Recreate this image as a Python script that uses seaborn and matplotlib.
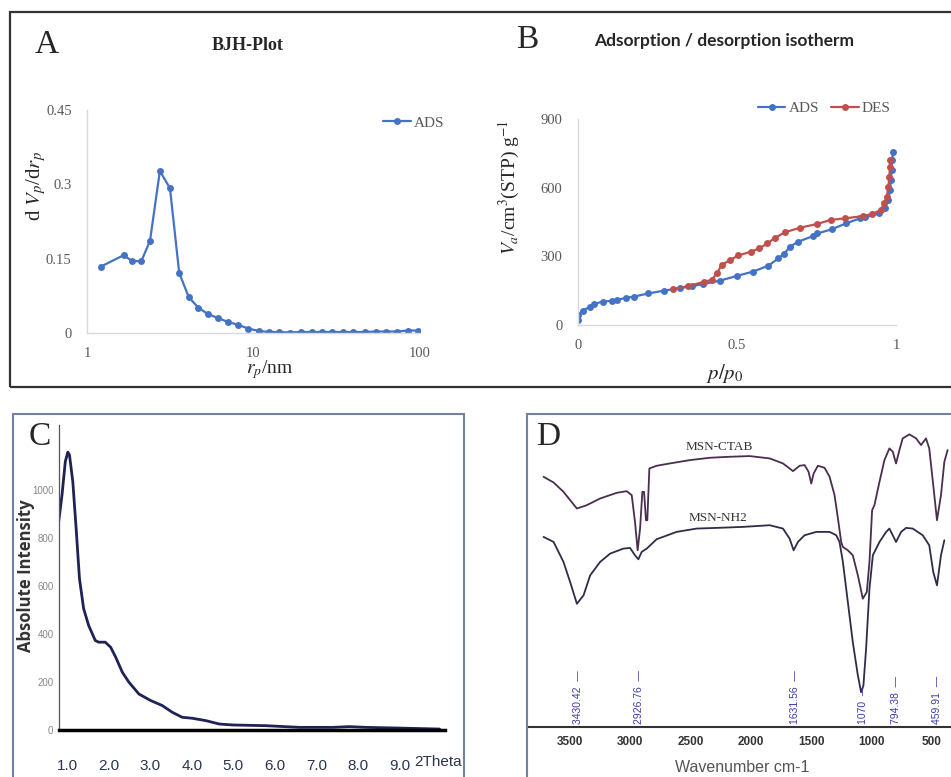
import matplotlib.pyplot as plt
from matplotlib.patches import Rectangle
from matplotlib.ticker import MultipleLocator, NullLocator
import seaborn as sns

# ---- A: BJH pore size distribution ----
bjh_r = [1.21, 1.66, 1.87, 2.12, 2.39, 2.74, 3.15, 3.58, 4.09, 4.67, 5.33, 6.15, 7.06, 8.02, 9.29,
         10.8, 12.4, 14.3, 16.6, 19.2, 22.4, 25.7, 29.8, 34.7, 39.8, 46.9, 54.1, 62.1, 72.8, 84.8, 97.3]
bjh_dv = [0.134, 0.157, 0.145, 0.145, 0.186, 0.327, 0.292, 0.121, 0.072, 0.051, 0.038, 0.030, 0.022, 0.017, 0.009,
          0.004, 0.002, 0.002, 0.001, 0.002, 0.002, 0.002, 0.002, 0.002, 0.002, 0.002, 0.003, 0.003, 0.003, 0.005, 0.005]

# ---- B: adsorption / desorption isotherm ----
ads_p = [0.0, 0.002, 0.016, 0.039, 0.051, 0.079, 0.107, 0.123, 0.151, 0.177, 0.222, 0.271, 0.32, 0.36,
         0.395, 0.447, 0.499, 0.55, 0.599, 0.63, 0.648, 0.667, 0.693, 0.74, 0.753, 0.798, 0.843, 0.887,
         0.903, 0.948, 0.965, 0.976, 0.981, 0.984, 0.986, 0.988, 0.991]
ads_v = [20, 44, 63, 80, 92, 102, 106, 109, 119, 124, 138, 150, 161, 170,
         179, 194, 214, 233, 259, 291, 310, 342, 364, 389, 400, 418, 444, 466,
         470, 488, 510, 546, 590, 633, 677, 721, 757]
des_p = [0.981, 0.981, 0.979, 0.976, 0.971, 0.962, 0.952, 0.924, 0.897, 0.840, 0.795, 0.751, 0.698,
         0.651, 0.620, 0.596, 0.571, 0.543, 0.505, 0.479, 0.452, 0.439, 0.421, 0.397, 0.348, 0.298]
des_v = [721, 692, 648, 604, 561, 531, 502, 485, 476, 466, 459, 441, 425,
         405, 381, 357, 335, 320, 304, 284, 262, 229, 197, 189, 170, 156]

# ---- C: low angle XRD ----
xrd_2theta = [0.78, 0.88, 0.96, 1.02, 1.06, 1.14, 1.22, 1.30, 1.40, 1.52, 1.68, 1.76, 1.92, 2.05, 2.17,
              2.33, 2.49, 2.73, 3.01, 3.29, 3.53, 3.77, 4.01, 4.34, 4.66, 4.98, 5.78, 6.59, 7.39, 7.79,
              8.19, 9.0, 9.96]
xrd_int = [840, 979, 1119, 1158, 1146, 1035, 840, 631, 506, 436, 373, 366, 366, 345, 304,
           241, 199, 150, 123, 102, 74, 53, 49, 39, 25, 21, 18, 11, 11, 14,
           11, 8, 4]

# ---- D: FTIR (arbitrary transmittance) ----
ctab_wn = [3716, 3633, 3551, 3440, 3358, 3248, 3110, 3028, 2986, 2959, 2937, 2917, 2898, 2884, 2868,
           2857, 2840, 2780, 2670, 2504, 2339, 2174, 2009, 1844, 1734, 1651, 1596, 1555, 1522, 1500,
           1480, 1445, 1390, 1348, 1307, 1279, 1252, 1238, 1197, 1156, 1114, 1073, 1040, 1018, 996,
           977, 935, 894, 853, 825, 798, 770, 743, 687, 632, 591, 550, 523, 490, 459, 426, 398, 371]
ctab_t = [75, 73.3, 70.5, 65.5, 66.5, 68.5, 70.2, 70.7, 69.5, 61.5, 53, 59.5, 70.5, 70.5, 62,
          62, 77.5, 78.3, 79, 80, 80.7, 81, 81.2, 80.5, 79, 76.7, 78.3, 78.5, 76.5, 73,
          76, 78.3, 77.7, 75, 69.5, 62.5, 55.5, 54, 53, 51.5, 45.5, 38.5, 40.5, 49.5, 65,
          66.5, 73.5, 80, 83.5, 82.5, 79, 83, 86.5, 87.7, 86.5, 84.5, 86.5, 83.5, 72.5, 62, 69.5, 79.5, 83]
nh2_wn = [3716, 3633, 3551, 3496, 3440, 3385, 3330, 3248, 3165, 3055, 3000, 2959, 2931, 2904, 2862,
          2780, 2615, 2449, 2284, 2064, 1844, 1734, 1679, 1646, 1610, 1555, 1458, 1348, 1293, 1266,
          1238, 1197, 1156, 1114, 1087, 1068, 1046, 1018, 990, 935, 880, 853, 798, 756, 715,
          660, 577, 523, 490, 459, 426, 398]
nh2_t = [57, 55.5, 49.5, 43.5, 37, 39.5, 45.5, 49.5, 52, 53.5, 53.7, 51.5, 50.3, 52.5, 53.5,
         56.3, 58.5, 59.5, 59.7, 60, 60.5, 59.5, 56.5, 53, 55.5, 57.5, 58.5, 58.5, 57.5, 55.5,
         49.5, 37.5, 25.5, 15.5, 10.5, 12.5, 23.5, 41.5, 51.5, 55.5, 58.5, 59.5, 55.5, 58.5, 59.7,
         59.5, 57.5, 54.5, 46.5, 42.5, 51.5, 56]
peak_wn = [3430.42, 2926.76, 1631.56, 1070, 794.38, 459.91]
peak_txt = ["3430.42", "2926.76", "1631.56", "1070", "794.38", "459.91"]

sns.set_style("white")
plt.rcParams["font.family"] = ["Liberation Serif", "DejaVu Serif"]
plt.rcParams["mathtext.fontset"] = "stix"

W, H = 951, 777
fig = plt.figure(figsize=(W / 100, H / 100), dpi=100)


def box(l, t, r, b):
    return [l / W, 1 - b / H, (r - l) / W, (b - t) / H]


def ftext(x, y, s, **kw):
    kw.setdefault("ha", "center")
    kw.setdefault("va", "center")
    fig.text(x / W, 1 - y / H, s, **kw)


def frame(l, t, r, b, color, lw):
    fig.add_artist(Rectangle((l / W, 1 - b / H), (r - l) / W, (b - t) / H,
                             transform=fig.transFigure, fill=False, ec=color, lw=lw))


blue = "#4472C4"
red = "#C0504D"
grey = "#595959"

frame(10, 12, 960, 387, "#333333", 1.6)
frame(13, 414, 464, 790, "#7083a3", 1.5)
frame(527, 414, 960, 790, "#7083a3", 1.5)


def excel_axes(ax):
    for s in ["top", "right"]:
        ax.spines[s].set_visible(False)
    for s in ["left", "bottom"]:
        ax.spines[s].set_color("#d9d9d9")
        ax.spines[s].set_linewidth(1)
    ax.tick_params(length=0, labelsize=10.5, labelcolor=grey)
    ax.tick_params(axis="y", pad=11)
    ax.tick_params(axis="x", pad=10)
    ax.set_xlabel("")
    ax.set_ylabel("")


# A
axA = fig.add_axes(box(87, 110, 420, 333))
sns.lineplot(x=bjh_r, y=bjh_dv, ax=axA, color=blue, lw=1.6, marker="o", markersize=5,
             markeredgewidth=0, label="ADS", estimator=None, sort=False)
axA.set_xscale("log")
axA.set_xlim(1, 100)
axA.set_ylim(0, 0.45)
axA.xaxis.set_minor_locator(NullLocator())
axA.set_xticks([1, 10, 100], ["1", "10", "100"])
axA.set_yticks([0, 0.15, 0.3, 0.45], ["0", "0.15", "0.3", "0.45"])
excel_axes(axA)
axA.legend(loc="center left", bbox_to_anchor=((383 - 87) / 333, (333 - 123) / 223), frameon=False,
           fontsize=11, handlelength=1.8, handletextpad=0.2, borderaxespad=0, borderpad=0,
           labelcolor=grey)
ftext(47, 45, "A", fontsize=24)
ftext(248, 45, "BJH-Plot", fontsize=13, weight="bold")
ftext(36, 186, r"d $V_p$/d$r_p$", rotation=90, fontsize=15)
ftext(270, 370, r"$r_p$/nm", fontsize=14)

# B
axB = fig.add_axes(box(577.7, 119, 896, 325))
sns.lineplot(x=ads_p, y=ads_v, ax=axB, color=blue, lw=1.6, marker="o", markersize=5,
             markeredgewidth=0, label="ADS", estimator=None, sort=False)
sns.lineplot(x=des_p, y=des_v, ax=axB, color=red, lw=1.6, marker="o", markersize=5,
             markeredgewidth=0, label="DES", estimator=None, sort=False)
axB.set_xlim(0, 1)
axB.set_ylim(0, 900)
axB.set_xticks([0, 0.5, 1], ["0", "0.5", "1"])
axB.set_yticks([0, 300, 600, 900])
excel_axes(axB)
axB.legend(loc="center left", bbox_to_anchor=(0.566, 1.053), frameon=False, ncol=2,
           fontsize=11, handlelength=1.8, handletextpad=0.2, columnspacing=0.8,
           borderaxespad=0, borderpad=0, labelcolor=grey)
ftext(527, 40, "B", fontsize=24)
ftext(724, 41, "Adsorption / desorption isotherm", family=["Lato", "DejaVu Sans"],
      weight="bold", fontsize=12.5)
ftext(509, 187, r"$V_a$/cm$^3$(STP) g$^{-1}$", rotation=90, fontsize=14)
ftext(725, 373, r"$p/p_0$", fontsize=15)

# C
narrow = ["Liberation Sans Narrow", "Liberation Sans", "DejaVu Sans"]
axC = fig.add_axes(box(59, 425, 445, 730))
sns.lineplot(x=xrd_2theta, y=xrd_int, ax=axC, color="#1e2256", lw=2, estimator=None, sort=False)
axC.set_xlim(0.808, 10.09)
axC.set_ylim(0, 1271)
axC.set_xlabel("")
axC.set_ylabel("")
for s in ["top", "right"]:
    axC.spines[s].set_visible(False)
axC.spines["bottom"].set_color("black")
axC.spines["bottom"].set_linewidth(2.5)
axC.spines["left"].set_color("#555555")
axC.spines["left"].set_linewidth(0.9)
axC.set_xticks(range(1, 10), [f"{i}.0" for i in range(1, 10)])
axC.xaxis.set_minor_locator(MultipleLocator(0.25))
axC.set_yticks(range(0, 1001, 200))
axC.yaxis.set_minor_locator(MultipleLocator(50))
axC.tick_params(axis="x", which="both", length=3, color="black", pad=18, labelsize=11,
                labelcolor="#2a3350")
axC.tick_params(axis="y", which="both", length=2, color="#555555", pad=2, labelsize=7,
                labelcolor="#888888")
for lab in axC.get_xticklabels() + axC.get_yticklabels():
    lab.set_family(narrow)
ftext(438, 762, "2Theta", family=narrow, fontsize=11, color="#2a3350")
ftext(26, 576, "Absolute Intensity", rotation=90, family=["Open Sans", "DejaVu Sans"],
      weight="bold", fontsize=12, color="#333333")
ftext(40, 437, "C", fontsize=24)

# D
axD = fig.add_axes(box(527, 414, 951, 727.3))
sns.lineplot(x=ctab_wn, y=ctab_t, ax=axD, color="#4b2d4f", lw=1.3, estimator=None, sort=False)
sns.lineplot(x=nh2_wn, y=nh2_t, ax=axD, color="#2d2d4a", lw=1.3, estimator=None, sort=False)
axD.set_xlim(3853, 343)
axD.set_ylim(0, 93.8)
axD.set_xlabel("")
axD.set_ylabel("")
for s in ["top", "right", "left"]:
    axD.spines[s].set_visible(False)
axD.spines["bottom"].set_color("#333333")
axD.spines["bottom"].set_linewidth(1.5)
axD.set_yticks([])
axD.set_xticks(range(3500, 499, -500))
axD.tick_params(axis="x", length=3, color="#333333", pad=3, labelsize=8.5, labelcolor="#333333")
for lab in axD.get_xticklabels():
    lab.set_family(["Liberation Sans", "DejaVu Sans"])
    lab.set_weight("bold")
for wn, txt in zip(peak_wn, peak_txt):
    axD.text(wn, 1.0, txt + "  \u2014", rotation=90, ha="center", va="bottom", fontsize=7.5,
             color="#3c3caa", family=["Liberation Sans", "DejaVu Sans"])
ftext(719, 447, "MSN-CTAB", fontsize=9.5, color="#333333")
ftext(718, 518, "MSN-NH2", fontsize=9.5, color="#333333")
ftext(548, 437, "D", fontsize=24)
ftext(742, 767, "Wavenumber cm-1", family=["Liberation Sans", "DejaVu Sans"], fontsize=11.5,
      color="#555555")

fig.savefig("out.png", dpi=100)
